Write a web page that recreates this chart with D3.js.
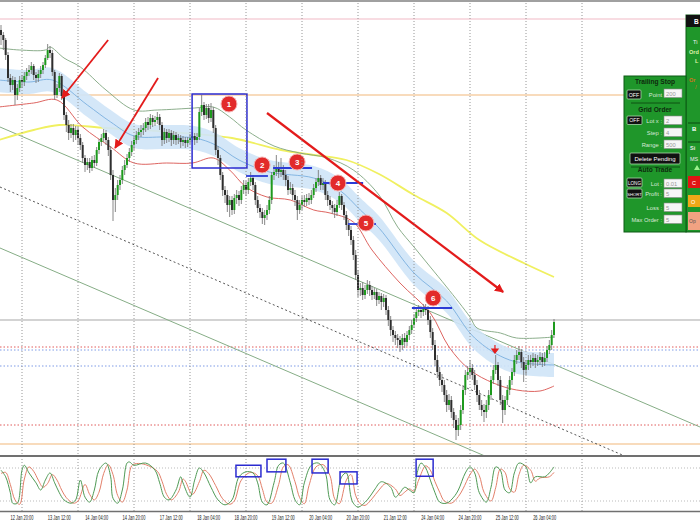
<!DOCTYPE html>
<html><head><meta charset="utf-8">
<script src="https://cdn.jsdelivr.net/npm/d3@7"></script>
<style>body{margin:0;background:#fff}svg{display:block}text{font-family:"Liberation Sans",Arial,sans-serif}</style>
</head><body><svg id="c" width="700" height="525"></svg>
<script>
// ---------- DATA ----------
// hourly candles, hour index -9 .. 228 (0 = 12 Jan 20:00, trading hours)
const firstHour = -9;
const firstOpen = 9670;
const close = [
9665,9660,9645,9622,9615,9620,9605,9612,9620,9618,
9624,9628,9630,9634,9625,9622,9626,9630,9635,9642,
9650,9647,9628,9605,9612,9624,9604,9585,9575,9567,
9572,9565,9570,9562,9555,9542,9535,9538,9532,9540,
9537,9550,9558,9562,9567,9560,9550,9525,9500,9505,
9515,9520,9530,9535,9542,9548,9555,9560,9565,9568,
9570,9572,9578,9575,9582,9578,9580,9583,9575,9560,
9568,9562,9567,9560,9565,9560,9562,9558,9560,9557,
9560,9562,9564,9560,9563,9588,9595,9585,9592,9582,
9590,9572,9550,9542,9525,9510,9505,9495,9500,9490,
9502,9505,9500,9510,9515,9510,9518,9522,9515,9500,
9492,9488,9482,9485,9490,9500,9525,9528,9532,9528,
9530,9525,9520,9510,9512,9505,9500,9490,9495,9500,
9498,9502,9500,9505,9512,9518,9522,9515,9517,9505,
9500,9495,9492,9488,9495,9504,9495,9485,9475,9470,
9460,9445,9425,9410,9412,9405,9410,9415,9410,9405,
9408,9400,9404,9398,9402,9390,9380,9370,9365,9362,
9360,9355,9362,9358,9365,9370,9375,9382,9388,9390,
9388,9392,9390,9380,9368,9355,9340,9328,9320,9315,
9305,9295,9300,9288,9280,9270,9275,9290,9310,9325,
9328,9332,9325,9315,9305,9295,9290,9288,9295,9305,
9320,9330,9335,9320,9300,9290,9300,9310,9320,9328,
9340,9345,9348,9338,9330,9335,9340,9338,9342,9338,
9340,9343,9338,9342,9350,9355,9365,9378];
const high = [
9675,9668,9662,9648,9626,9624,9623,9616,9624,9625,
9628,9632,9635,9638,9636,9628,9630,9634,9638,9645,
9656,9654,9650,9630,9616,9627,9626,9607,9588,9580,
9576,9576,9574,9573,9566,9558,9545,9542,9542,9544,
9545,9553,9561,9566,9571,9570,9563,9554,9530,9512,
9520,9525,9534,9540,9546,9552,9559,9564,9569,9572,
9575,9577,9582,9583,9586,9585,9584,9588,9586,9578,
9572,9571,9571,9570,9569,9568,9566,9565,9564,9563,
9563,9566,9568,9567,9567,9592,9605,9598,9596,9596,
9597,9593,9575,9554,9545,9528,9514,9510,9504,9504,
9506,9510,9509,9514,9520,9519,9522,9528,9525,9518,
9504,9496,9492,9490,9495,9504,9528,9535,9545,9538,
9542,9535,9530,9524,9518,9516,9510,9504,9500,9504,
9505,9506,9507,9510,9516,9522,9530,9525,9522,9520,
9509,9504,9499,9496,9500,9508,9506,9498,9489,9480,
9474,9464,9450,9430,9417,9418,9415,9420,9419,9414,
9412,9411,9408,9407,9406,9405,9394,9384,9374,9369,
9366,9364,9366,9367,9369,9374,9380,9386,9392,9395,
9394,9396,9396,9394,9384,9372,9360,9345,9333,9326,
9320,9310,9306,9304,9292,9285,9282,9295,9315,9330,
9334,9340,9336,9330,9320,9310,9300,9296,9300,9310,
9324,9335,9345,9338,9324,9305,9304,9315,9324,9332,
9345,9350,9354,9351,9343,9340,9345,9345,9347,9346,
9345,9348,9347,9348,9354,9360,9370,9381];
const low = [
9655,9650,9640,9618,9608,9610,9595,9600,9608,9612,
9614,9620,9624,9626,9620,9617,9618,9622,9626,9632,
9640,9642,9624,9600,9602,9608,9600,9580,9568,9560,
9562,9558,9560,9555,9550,9537,9528,9530,9527,9529,
9532,9534,9546,9554,9558,9555,9544,9520,9479,9488,
9500,9510,9516,9525,9532,9538,9544,9550,9556,9560,
9563,9565,9568,9570,9571,9573,9574,9576,9570,9554,
9556,9557,9558,9554,9556,9555,9556,9552,9554,9552,
9553,9556,9558,9555,9557,9560,9584,9580,9581,9577,
9578,9567,9545,9535,9520,9504,9497,9488,9483,9485,
9486,9496,9494,9496,9506,9504,9506,9514,9510,9495,
9487,9482,9476,9475,9480,9486,9496,9520,9524,9522,
9523,9520,9514,9505,9506,9500,9494,9480,9486,9490,
9493,9494,9495,9496,9502,9508,9514,9510,9510,9500,
9494,9490,9486,9482,9484,9492,9490,9480,9470,9464,
9455,9440,9420,9403,9404,9400,9401,9406,9404,9400,
9401,9394,9396,9390,9393,9385,9374,9364,9358,9355,
9352,9348,9350,9352,9354,9360,9366,9372,9378,9384,
9382,9384,9385,9375,9362,9350,9334,9322,9314,9308,
9298,9288,9290,9282,9272,9260,9264,9270,9286,9305,
9320,9322,9320,9310,9298,9290,9284,9278,9282,9290,
9300,9316,9326,9314,9295,9277,9285,9295,9305,9315,
9324,9336,9340,9332,9318,9325,9330,9332,9334,9332,
9334,9335,9333,9334,9338,9346,9350,9362];

// moving-average envelope (blue band)
const bandH     = [-10,3,13,28,38,48,61,74,83,93,106,125,136,145,153,168,182,194,209,228];
const bandUpper = [9632,9630,9632,9607,9590,9576,9575,9574,9567,9552,9540,9534,9522,9502,9484,9439,9411,9374,9352,9347];
const bandMid   = [9620,9618,9620,9595,9578,9564,9563,9562,9555,9540,9528,9522,9510,9490,9472,9427,9399,9362,9340,9335];
const bandLower = [9608,9606,9608,9583,9566,9552,9551,9550,9543,9528,9516,9510,9498,9478,9460,9415,9387,9350,9328,9323];
// outer envelope lines
const greenH = [-10,-1,10,12,18,25,36,48,58,74,82,89,96,108,119,131,142,153,161,168,175,182,192,195,205,212,228];
const greenV = [9652,9650,9650,9653,9642,9633,9610,9590,9590,9592,9593,9583,9570,9554,9547,9542,9530,9505,9473,9453,9433,9413,9383,9372,9367,9362,9363];
const redH = [-10,5,15,26,38,48,62,73,82,89,96,105,115,125,132,142,150,162,175,183,192,202,212,222,228];
const redV = [9593,9597,9600,9573,9553,9537,9537,9537,9542,9530,9513,9503,9500,9490,9487,9478,9450,9417,9387,9353,9330,9317,9310,9309,9314];
// slow moving average (yellow)
const yellowH = [-10,5,16,36,63,90,111,125,139,153,168,182,196,215,228];
const yellowV = [9560,9570,9575,9572,9568,9562,9550,9545,9540,9526,9505,9487,9460,9437,9423];

// regression channel lines [h0, v0, h1, v1]
const channelUpper = [-9.43, 9573, 290.57, 9273];
const channelMid   = [-9.43, 9513, 259.3, 9243];
const channelLower = [-9.43, 9452, 198.4, 9244];

// horizontal price levels
const levelPrices = [9681, 9605, 9380, 9353, 9350, 9334, 9275, 9256];
const levelKinds  = ["pink","orange","grey","reddot","bluedot","bluedot","reddot","orange"];

// annotations
const arrowsFrom = [[36.9, 9660], [58.3, 9622], [105, 9587]];
const arrowsTo   = [[17.1, 9602], [39.9, 9552], [206.2, 9408]];
const boxMain = [72.9, 9606, 96.4, 9532];
const markNums = [1,2,3,4,5,6];
const markH = [88.7, 102.9, 117.9, 135.4, 147.4, 176.2];
const markV = [9596, 9535, 9538, 9517, 9477, 9402];
const srH0 = [96, 107.6, 129, 139.7, 167.1];
const srH1 = [105.4, 124.3, 146.2, 151.7, 184.3];
const srV  = [9524, 9532, 9517, 9476, 9392];
const downMark = [202.7, 9348];

// stochastic oscillator
const stochH = [-9,-7,-5,-4,-2,0,1,3,6,8,10,12,14,16,18,21,23,25,27,29,31,33,36,38,39,41,43,45,46,48,53,57,59,61,63,66,68,69,72,74,76,78,81,84,87,90,93,96,99,101,103,105,108,110,112,115,117,119,121,124,127,130,132,134,137,139,141,142,144,148,151,154,158,160,162,164,166,168,169,171,173,175,177,179,182,185,187,190,192,194,196,199,201,203,205,207,209,211,213,216,218,220,224,226,228];
const stochK = [76,64,35,16,16,76,85,71,53,40,58,71,53,35,22,16,22,58,27,18,40,76,89,64,25,16,40,89,91,85,89,76,53,27,22,40,64,53,27,58,80,71,45,22,13,22,64,73,71,53,18,13,53,85,89,53,22,13,53,85,89,71,22,13,64,71,27,16,9,22,40,55,45,27,35,45,40,35,64,89,80,58,35,18,16,27,40,71,82,71,35,18,45,82,76,40,35,71,89,82,53,64,64,71,82];
const stochDH = [-9,-7,-5,-3,-1,1,3,5,7,9,11,13,15,17,19,22,24,27,29,31,33,35,37,39,41,43,45,47,49,53,58,60,62,64,67,69,70,73,76,78,80,83,86,89,91,94,98,101,103,105,107,110,112,114,117,119,121,123,126,129,132,134,136,139,141,143,145,147,150,153,156,160,162,164,166,168,170,173,175,177,179,181,184,187,189,192,194,196,198,201,203,205,207,209,211,213,215,218,220,222,226,228];
const stochD = [70,72,50,22,14,60,82,74,58,45,52,68,58,40,26,16,20,50,32,22,36,70,86,68,30,18,40,84,88,86,74,56,32,22,36,60,56,32,55,76,70,48,24,14,20,58,72,66,42,18,16,50,82,86,55,26,15,48,82,86,66,24,15,58,68,30,15,12,24,40,52,42,30,36,42,38,58,84,76,55,36,20,16,28,42,68,78,66,36,20,44,78,72,42,36,68,85,76,56,62,64,72];
const stochLevels = [80, 20];
const oscBoxes = [[91.7,85,102.4,64],[105,96,113.1,73],[124.3,96,131.2,71],[136.3,73,143.6,51],[168.9,96,176.2,65]];

// time axis
const timeLabels = ["12 Jan 20:00","13 Jan 12:00","14 Jan 04:00","14 Jan 20:00","17 Jan 12:00","18 Jan 04:00","18 Jan 20:00","19 Jan 12:00","20 Jan 04:00","20 Jan 20:00","21 Jan 12:00","24 Jan 04:00","24 Jan 20:00","25 Jan 12:00","26 Jan 04:00"];
const labelStep = 16, gridStep = 24, gridCount = 11;

// EA panel texts
const panelTitles = ["Trailing Stop","Grid Order","Auto Trade"];
const gridRowLabels = ["Lot x :","Step :","Range :"];
const gridRowValues = ["2","4","500"];
const autoRowLabels = ["Lot :","Profit :","Loss :","Max Order :"];
const autoRowValues = ["0.01","5","5","5"];

// ---------- DRAW ----------
const svg = d3.select("#c");
const x = d3.scaleLinear().domain([-9.43, 290.57]).range([0, 700]);
const y = d3.scaleLinear().domain([9244, 9700]).range([456, 0]);
const yo = d3.scaleLinear().domain([0, 100]).range([512, 457]);

const defs = svg.append("defs");
defs.append("clipPath").attr("id","cm").append("rect").attr("x",0).attr("y",0).attr("width",700).attr("height",455);
defs.append("clipPath").attr("id","co").append("rect").attr("x",0).attr("y",457).attr("width",700).attr("height",54);
defs.append("clipPath").attr("id","cp").append("rect").attr("x",0).attr("y",0).attr("width",700).attr("height",525);
defs.append("marker").attr("id","ah").attr("viewBox","0 0 10 10").attr("refX",9).attr("refY",5)
  .attr("markerWidth",9).attr("markerHeight",9).attr("markerUnits","userSpaceOnUse").attr("orient","auto")
  .append("path").attr("d","M0,0L10,5L0,10z").attr("fill","#e31b1b");

svg.append("rect").attr("width",700).attr("height",525).attr("fill","#fff");

const main = svg.append("g").attr("clip-path","url(#cm)");

// price levels
const lvStyle = {
  pink:{c:"#f2b9c6",w:1.2,d:null}, orange:{c:"#f6cfa6",w:1.6,d:null}, grey:{c:"#c4c4c4",w:1.6,d:null},
  reddot:{c:"#e05a5a",w:1,d:"1.5,2"}, bluedot:{c:"#7f9be6",w:1,d:"1.5,2"}
};
levelPrices.forEach((p,i)=>{
  const s = lvStyle[levelKinds[i]];
  main.append("line").attr("x1",0).attr("x2",700).attr("y1",y(p)).attr("y2",y(p))
    .attr("stroke",s.c).attr("stroke-width",s.w).attr("stroke-dasharray",s.d);
});

// vertical grid
d3.range(gridCount).forEach(k=>{
  svg.append("line").attr("x1",x(k*gridStep)).attr("x2",x(k*gridStep)).attr("y1",0).attr("y2",512)
    .attr("stroke","#8a8a8a").attr("stroke-width",0.9).attr("stroke-dasharray","1,2");
});

// channel
[[channelUpper,"#86ad86",null,1],[channelMid,"#555",'2,2.5',1],[channelLower,"#86ad86",null,1]].forEach(([c,col,d,w])=>{
  main.append("line").attr("x1",x(c[0])).attr("y1",y(c[1])).attr("x2",x(c[2])).attr("y2",y(c[3]))
    .attr("stroke",col).attr("stroke-width",w).attr("stroke-dasharray",d);
});

const lineGen = (hs, vs) => d3.line().x((d,i)=>x(hs[i])).y((d,i)=>y(vs[i])).curve(d3.curveCatmullRom)(vs);

// yellow MA
main.append("path").attr("d",lineGen(yellowH,yellowV)).attr("fill","none").attr("stroke","#f0f060").attr("stroke-width",1.8);

// blue band
const area = d3.area().x((d,i)=>x(bandH[i])).y0((d,i)=>y(bandLower[i])).y1((d,i)=>y(bandUpper[i])).curve(d3.curveCatmullRom);
main.append("path").attr("d",area(bandMid)).attr("fill","#cfe4f7").attr("opacity",0.9);
main.append("path").attr("d",lineGen(bandH,bandMid)).attr("fill","none").attr("stroke","#6fa8dc").attr("stroke-width",0.8);

// outer envelopes
main.append("path").attr("d",lineGen(greenH,greenV)).attr("fill","none").attr("stroke","#7fa57f").attr("stroke-width",0.9);
main.append("path").attr("d",lineGen(redH,redV)).attr("fill","none").attr("stroke","#d9534f").attr("stroke-width",0.9);

// candles
const candles = close.map((c,i)=>({h:firstHour+i, o: i===0?firstOpen:close[i-1], c, hi:high[i], lo:low[i]}));
const cg = main.append("g");
cg.selectAll("line.w").data(candles).enter().append("line")
  .attr("x1",d=>x(d.h)).attr("x2",d=>x(d.h)).attr("y1",d=>y(d.hi)).attr("y2",d=>y(d.lo))
  .attr("stroke","#7a7a7a").attr("stroke-width",0.9);
cg.selectAll("rect").data(candles).enter().append("rect")
  .attr("x",d=>x(d.h)-1).attr("width",2)
  .attr("y",d=>y(Math.max(d.o,d.c))).attr("height",d=>Math.max(0.9,Math.abs(y(d.o)-y(d.c))))
  .attr("fill",d=>d.c>d.o?"#1d9a1d":"#2e2e2e");

// annotations
main.append("rect").attr("x",x(boxMain[0])).attr("y",y(boxMain[1]))
  .attr("width",x(boxMain[2])-x(boxMain[0])).attr("height",y(boxMain[3])-y(boxMain[1]))
  .attr("fill","none").attr("stroke","#2b2bd0").attr("stroke-width",1.5);
srV.forEach((v,i)=>{
  main.append("line").attr("x1",x(srH0[i])).attr("x2",x(srH1[i])).attr("y1",y(v)).attr("y2",y(v))
    .attr("stroke","#2b3bd6").attr("stroke-width",1.8);
});
arrowsFrom.forEach((f,i)=>{
  const t = arrowsTo[i];
  main.append("line").attr("x1",x(f[0])).attr("y1",y(f[1])).attr("x2",x(t[0])).attr("y2",y(t[1]))
    .attr("stroke","#e31b1b").attr("stroke-width",i===2?2.2:1.8).attr("marker-end","url(#ah)");
});
{
  const px = x(downMark[0]), py = y(downMark[1]);
  main.append("path").attr("d",`M${px},${py-7}V${py-2}M${px-3},${py-3}L${px+3},${py-3}L${px},${py+1}Z`)
    .attr("stroke","#e31b1b").attr("stroke-width",1.2).attr("fill","#e31b1b");
}
markNums.forEach((n,i)=>{
  const g = main.append("g").attr("transform",`translate(${x(markH[i])},${y(markV[i])})`);
  g.append("circle").attr("r",8).attr("fill","#e22a2a").attr("stroke","#f6b3b3").attr("stroke-width",1);
  g.append("text").attr("y",3).attr("text-anchor","middle").attr("font-size",8).attr("font-weight","bold")
    .attr("fill","#fff").text(n);
});

// oscillator panel
const osc = svg.append("g").attr("clip-path","url(#co)");
stochLevels.forEach(l=>{
  osc.append("line").attr("x1",0).attr("x2",700).attr("y1",yo(l)).attr("y2",yo(l))
    .attr("stroke","#aaa").attr("stroke-width",0.8).attr("stroke-dasharray","1,2");
});
const oLine = (hs, vs) => d3.line().x((d,i)=>x(hs[i])).y((d,i)=>yo(vs[i])).curve(d3.curveCatmullRom)(vs);
osc.append("path").attr("d",oLine(stochDH,stochD)).attr("fill","none").attr("stroke","#e3806a").attr("stroke-width",1);
osc.append("path").attr("d",oLine(stochH,stochK)).attr("fill","none").attr("stroke","#4f9a55").attr("stroke-width",1);
oscBoxes.forEach(b=>{
  osc.append("rect").attr("x",x(b[0])).attr("y",yo(b[1])).attr("width",x(b[2])-x(b[0])).attr("height",yo(b[3])-yo(b[1]))
    .attr("fill","none").attr("stroke","#2b2bd0").attr("stroke-width",1.5);
});

// separators
svg.append("line").attr("x1",0).attr("x2",700).attr("y1",1).attr("y2",1).attr("stroke","#a0a0a0").attr("stroke-width",2);
svg.append("line").attr("x1",0).attr("x2",700).attr("y1",456).attr("y2",456).attr("stroke","#707070").attr("stroke-width",2);
svg.append("line").attr("x1",0).attr("x2",700).attr("y1",511.5).attr("y2",511.5).attr("stroke","#707070").attr("stroke-width",1.5);

// time labels
timeLabels.forEach((t,i)=>{
  svg.append("text").attr("x",x(i*labelStep)).attr("y",520).attr("text-anchor","middle")
    .attr("font-size",6.8).attr("fill","#222").attr("textLength",23).attr("lengthAdjust","spacingAndGlyphs").text(t);
});

// ---------- EA panels ----------
const P = svg.append("g");
const green = "#1f962a", dark = "#0c5a14";
// back panel (right, cut off by the window edge)
P.append("rect").attr("x",686).attr("y",15).attr("width",20).attr("height",217).attr("fill",green).attr("stroke",dark).attr("stroke-width",1);
P.append("rect").attr("x",686).attr("y",15).attr("width",20).attr("height",12).attr("fill","#111");
P.append("text").attr("x",694).attr("y",24).attr("font-size",6.5).attr("fill","#fff").attr("font-weight","bold").text("B");
P.append("text").attr("x",693).attr("y",44).attr("font-size",5.5).attr("fill","#f0f0f0").text("Ti");
P.append("text").attr("x",689).attr("y",54).attr("font-size",5.5).attr("fill","#dff3a8").attr("font-weight","bold").text("Ord");
P.append("text").attr("x",695).attr("y",63).attr("font-size",5.5).attr("fill","#dff3a8").attr("font-weight","bold").text("L");
P.append("text").attr("x",689).attr("y",82).attr("font-size",5.5).attr("fill","#d2721e").attr("font-weight","bold").text("Or");
P.append("text").attr("x",695).attr("y",89).attr("font-size",5.5).attr("fill","#d2721e").text("/");
[123,142].forEach(yy=>P.append("line").attr("x1",688).attr("x2",700).attr("y1",yy).attr("y2",yy).attr("stroke","#0b4a10").attr("stroke-width",1));
P.append("text").attr("x",692).attr("y",131).attr("font-size",6).attr("fill","#fff").attr("font-weight","bold").text("B");
P.append("text").attr("x",690).attr("y",150).attr("font-size",5.5).attr("fill","#e8e8e8").attr("font-weight","bold").text("Si");
P.append("text").attr("x",690).attr("y",161).attr("font-size",5.5).attr("fill","#e8e8e8").text("MS");
P.append("path").attr("d","M694,170L697,165L700,170Z").attr("fill","#9cf08c");
P.append("rect").attr("x",688).attr("y",176).attr("width",20).attr("height",12).attr("fill","#e01414");
P.append("text").attr("x",692).attr("y",184.5).attr("font-size",5.5).attr("fill","#fff").text("C");
P.append("rect").attr("x",688).attr("y",195).attr("width",20).attr("height",12).attr("fill","#f0a818");
P.append("text").attr("x",691).attr("y",203.5).attr("font-size",5.5).attr("fill","#fff").text("O");
P.append("rect").attr("x",688).attr("y",212).attr("width",20).attr("height",18).attr("fill","#f2a282");
P.append("text").attr("x",689).attr("y",223).attr("font-size",5).attr("fill","#555").text("Op");

// front panel
P.append("rect").attr("x",624).attr("y",76).attr("width",62).attr("height",156).attr("fill",green).attr("stroke",dark).attr("stroke-width",1);
const titleY = [84, 111.5, 172];
panelTitles.forEach((t,i)=>P.append("text").attr("x",655).attr("y",titleY[i]).attr("text-anchor","middle")
  .attr("font-size",6.6).attr("font-weight","bold").attr("fill","#0e2a0e").text(t));
[103,167].forEach(yy=>P.append("line").attr("x1",631).attr("x2",680).attr("y1",yy).attr("y2",yy).attr("stroke","#0b4a10").attr("stroke-width",0.9));
function btn(bx,by,w,h,t,fs){
  P.append("rect").attr("x",bx).attr("y",by).attr("width",w).attr("height",h).attr("rx",1).attr("fill","#111").attr("stroke","#a9d8a9").attr("stroke-width",0.8);
  P.append("text").attr("x",bx+w/2).attr("y",by+h/2+2).attr("text-anchor","middle").attr("font-size",fs).attr("fill","#fff").text(t);
}
function inp(by,t){
  P.append("rect").attr("x",664).attr("y",by).attr("width",18).attr("height",8.5).attr("fill","#f6f6f6").attr("stroke","#8a8a8a").attr("stroke-width",0.6);
  P.append("text").attr("x",666).attr("y",by+6.6).attr("font-size",5.8).attr("fill","#999").text(t);
}
function lab(ly,t){
  P.append("text").attr("x",662).attr("y",ly).attr("text-anchor","end").attr("font-size",5.8).attr("fill","#d8e8d8").text(t);
}
btn(627,90,14,9,"OFF",5.2);
lab(96.5,"Point"); inp(89,"200");
btn(627,116,15,8.5,"OFF",5.2);
const gridY = [116,128,140];
gridRowLabels.forEach((l,i)=>{ lab(gridY[i]+6.5,l); inp(gridY[i],gridRowValues[i]); });
btn(630,153,50,11,"Delete Pending",6);
const autoY = [179,189,203,215];
autoRowLabels.forEach((l,i)=>{ lab(autoY[i]+6.5,l); inp(autoY[i],autoRowValues[i]); });
btn(627,178,15,9,"LONG",4.6);
btn(627,189,15,9,"SHORT",4.2);
</script></body></html>
